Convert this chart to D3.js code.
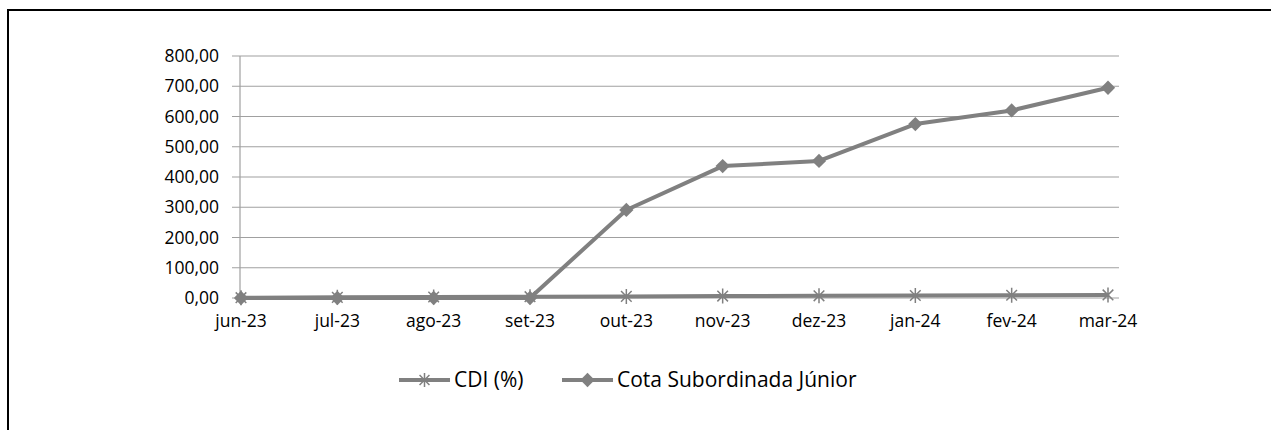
<!DOCTYPE html>
<html>
<head>
<meta charset="utf-8">
<script src="https://cdn.jsdelivr.net/npm/d3@7"></script>
<style>
  body { margin: 0; background: #fff; }
  svg { display: block; font-family: 'Open Sans', sans-serif; }
</style>
</head>
<body>
<svg id="canvas" width="1271" height="430"></svg>
<script>
const months = ['jun-23', 'jul-23', 'ago-23', 'set-23', 'out-23', 'nov-23', 'dez-23', 'jan-24', 'fev-24', 'mar-24'];
const cdi = [1.07, 2.14, 3.3, 4.3, 5.3, 6.3, 7.3, 8.3, 9.2, 10.2];
const cotaJunior = [0, 0, 0, 0, 291, 436, 453, 575, 620, 695];
const yTicks = [0, 100, 200, 300, 400, 500, 600, 700, 800];
const seriesNames = ['CDI (%)', 'Cota Subordinada Júnior'];

const canvas = d3.select('#canvas');
const lineColor = '#808080';
const fmt = (v) => d3.format('.2f')(v).replace('.', ',');

// outer frame (right and bottom are off the picture)
canvas.append('rect')
  .attr('x', 8).attr('y', 10)
  .attr('width', 1300).attr('height', 500)
  .attr('fill', 'none')
  .attr('stroke', '#000')
  .attr('stroke-width', 2);

const x = d3.scalePoint().domain(months).range([241, 1108]);
const y = d3.scaleLinear().domain([0, 800]).range([298, 56]);

// gridlines
canvas.append('g')
  .selectAll('line')
  .data(yTicks)
  .enter()
  .append('line')
  .attr('x1', 232)
  .attr('x2', 1119)
  .attr('y1', (d) => y(d))
  .attr('y2', (d) => y(d))
  .attr('stroke', '#a0a0a0')
  .attr('stroke-width', 1.2);

// y axis line
canvas.append('line')
  .attr('x1', 240).attr('x2', 240)
  .attr('y1', y(800)).attr('y2', y(0))
  .attr('stroke', '#a0a0a0')
  .attr('stroke-width', 1.2);

canvas.append('g')
  .selectAll('text')
  .data(yTicks)
  .enter()
  .append('text')
  .attr('x', 219)
  .attr('y', (d) => y(d))
  .attr('dy', '0.35em')
  .attr('text-anchor', 'end')
  .attr('font-size', 17.5)
  .attr('fill', '#000')
  .text((d) => fmt(d));

canvas.append('g')
  .selectAll('text')
  .data(months)
  .enter()
  .append('text')
  .attr('x', (d) => x(d))
  .attr('y', 327)
  .attr('text-anchor', 'middle')
  .attr('font-size', 17.5)
  .attr('fill', '#000')
  .text((d) => d);

const line = d3.line()
  .x((d, i) => x(months[i]))
  .y((d) => y(d));

const starPath = (s) => {
  const r = s / 2;
  const a = r * Math.SQRT1_2;
  return 'M' + (-a) + ',' + (-a) + 'L' + a + ',' + a +
    'M' + (-a) + ',' + a + 'L' + a + ',' + (-a) +
    'M0,' + (-r) + 'L0,' + r;
};
const diamond = d3.symbol().type(d3.symbolDiamond2).size(130);

const drawSeries = (values, marker) => {
  canvas.append('path')
    .datum(values)
    .attr('d', line)
    .attr('fill', 'none')
    .attr('stroke', lineColor)
    .attr('stroke-width', 4)
    .attr('stroke-linejoin', 'round');

  const g = canvas.append('g')
    .selectAll('path')
    .data(values)
    .enter()
    .append('path')
    .attr('transform', (d, i) => 'translate(' + x(months[i]) + ',' + y(d) + ')');
  if (marker === 'star') {
    g.attr('d', starPath(15)).attr('fill', 'none').attr('stroke', lineColor).attr('stroke-width', 1.5);
  } else {
    g.attr('d', diamond()).attr('fill', lineColor);
  }
};

drawSeries(cotaJunior, 'diamond');
drawSeries(cdi, 'star');

// legend
const legend = canvas.append('g').attr('transform', 'translate(0, 380)');
const legendItems = [
  { name: seriesNames[0], x0: 399, marker: 'star' },
  { name: seriesNames[1], x0: 562, marker: 'diamond' }
];
legendItems.forEach((item) => {
  legend.append('line')
    .attr('x1', item.x0).attr('x2', item.x0 + 51)
    .attr('y1', 0).attr('y2', 0)
    .attr('stroke', lineColor)
    .attr('stroke-width', 4);
  const m = legend.append('path')
    .attr('transform', 'translate(' + (item.x0 + 25.5) + ',0)');
  if (item.marker === 'star') {
    m.attr('d', starPath(14)).attr('fill', 'none').attr('stroke', lineColor).attr('stroke-width', 1.5);
  } else {
    m.attr('d', diamond()).attr('fill', lineColor);
  }
  legend.append('text')
    .attr('x', item.x0 + 55)
    .attr('y', 0)
    .attr('dy', '0.35em')
    .attr('font-size', 21)
    .attr('fill', '#000')
    .text(item.name);
});
</script>
</body>
</html>
